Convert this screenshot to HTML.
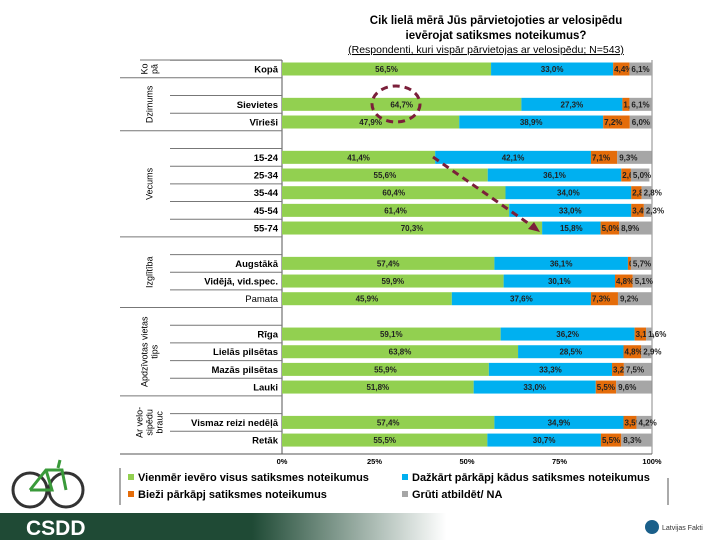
<!DOCTYPE html>
<html><head><meta charset="utf-8"><style>
body{margin:0;background:#fff;}
svg{display:block;font-family:"Liberation Sans",sans-serif;}
</style></head><body>
<svg id="c" width="720" height="540">
<text x="496" y="24" text-anchor="middle" font-size="11.5" font-weight="bold">Cik lielā mērā Jūs pārvietojoties ar velosipēdu</text>
<text x="496" y="39" text-anchor="middle" font-size="11.5" font-weight="bold">ievērojat satiksmes noteikumus?</text>
<text x="486" y="53" text-anchor="middle" font-size="10.5" text-decoration="underline">(Respondenti, kuri vispār pārvietojas ar velosipēdu; N=543)</text>
<g id="plot"></g>
<g>
<defs><linearGradient id="fg" x1="0" x2="1"><stop offset="0" stop-color="#1f4a35"/><stop offset="0.35" stop-color="#1f4a35"/><stop offset="0.62" stop-color="#ffffff"/></linearGradient></defs>
<rect x="0" y="513" width="720" height="27" fill="url(#fg)"/>
<text x="26" y="535" font-size="21" font-weight="bold" fill="#fff">CSDD</text>
<circle cx="652" cy="527" r="7" fill="#1a5f8a"/>
<text x="662" y="530" font-size="7" fill="#333">Latvijas Fakti</text>
</g>
<g stroke="#333" fill="none" stroke-width="3">
<circle cx="30" cy="490" r="17"/><circle cx="66" cy="490" r="17"/>
<path d="M30 490 L46 470 L62 470 L66 490 M46 470 L52 490 L30 490 M58 468 L60 460" stroke="#3a9a3a" stroke-width="3"/>
</g>
</svg>
<script>
const categories=["Kopā","Sievietes","Vīrieši","15-24","25-34","35-44","45-54","55-74","Augstākā","Vidējā, vid.spec.","Pamata","Rīga","Lielās pilsētas","Mazās pilsētas","Lauki","Vismaz reizi nedēļā","Retāk"];
const slots=[0,2,3,5,6,7,8,9,11,12,13,15,16,17,18,20,21];
const boldCat=[1,1,1,1,1,1,1,1,1,1,0,1,1,1,1,1,1];
const seriesA=[56.5,64.7,47.9,41.4,55.6,60.4,61.4,70.3,57.4,59.9,45.9,59.1,63.8,55.9,51.8,57.4,55.5];
const seriesB=[33.0,27.3,38.9,42.1,36.1,34.0,33.0,15.8,36.1,30.1,37.6,36.2,28.5,33.3,33.0,34.9,30.7];
const seriesC=[4.4,1.9,7.2,7.1,2.6,2.8,3.4,5.0,0.8,4.8,7.3,3.1,4.8,3.2,5.5,3.5,5.5];
const seriesD=[6.1,6.1,6.0,9.3,5.0,2.8,2.3,8.9,5.7,5.1,9.2,1.6,2.9,7.5,9.6,4.2,8.3];
const ticks=[0,25,50,75,100];
const seriesNames=["Vienmēr ievēro visus satiksmes noteikumus","Dažkārt pārkāpj kādus satiksmes noteikumus","Bieži pārkāpj satiksmes noteikumus","Grūti atbildēt/ NA"];
const groups=[["Ko pā",0,0],["Dzimums",1,3],["Vecums",4,9],["Izglītība",10,13],["Apdzīvotas vietas tips",14,18],["Ar velo-sipēdu brauc",19,21]];
const colors=["#92d050","#00b0f0","#e46c0a","#a6a6a6"];
const NS="http://www.w3.org/2000/svg";
const g=document.getElementById('plot');
const X0=282,X1=652;
const x=v=>X0+(X1-X0)*v/100;
const y=s=>69+s*17.67;
function mk(t,a,p){const e=document.createElementNS(NS,t);for(const k in a)e.setAttribute(k,a[k]);(p||g).appendChild(e);return e;}
// axes lines
mk('line',{x1:X0,y1:60,x2:X0,y2:454,stroke:'#555','stroke-width':1});
mk('line',{x1:X1,y1:60,x2:X1,y2:454,stroke:'#888','stroke-width':1});
mk('line',{x1:120,y1:454,x2:X1,y2:454,stroke:'#555','stroke-width':1});
mk('line',{x1:140,y1:60,x2:X0,y2:60,stroke:'#777','stroke-width':1});
// separators
groups.forEach((gr,i)=>{
  const yb=y(gr[2])+8.8;
  if(i<groups.length-1) mk('line',{x1:120,y1:yb,x2:X0,y2:yb,stroke:'#777','stroke-width':1});
  const yc=(y(gr[1])-8.8+yb)/2;
  const words=gr[0].split(' ');
  const lines=gr[0]==="Ko pā"?["Ko","pā"]:gr[0]==="Apdzīvotas vietas tips"?["Apdzīvotas vietas","tips"]:gr[0]==="Ar velo-sipēdu brauc"?["Ar velo-","sipēdu","brauc"]:[gr[0]];
  lines.forEach((ln,j)=>{
    const xx=150+(j-(lines.length-1)/2)*10;
    const t=mk('text',{x:xx,y:yc,'font-size':9,'text-anchor':'middle',transform:`rotate(-90 ${xx} ${yc})`,'dominant-baseline':'middle'});
    t.textContent=ln;
    
    
  });
});
categories.forEach((c,i)=>{
  const yy=y(slots[i]);
  if(i>0 && ![3,8,11,15].includes(i)) {} 
  mk('line',{x1:170,y1:yy-8.8,x2:X0,y2:yy-8.8,stroke:'#777','stroke-width':1});
  const t=mk('text',{x:278,y:yy+3.5,'font-size':9.5,'text-anchor':'end','font-weight':boldCat[i]?'bold':'normal'});
  t.textContent=c;
  
  
  const vals=[seriesA[i],seriesB[i],seriesC[i],seriesD[i]];
  let acc=0;
  vals.forEach((v,k)=>{
    const r=mk('rect',{x:x(acc),y:yy-6.5,width:Math.max(0,x(acc+v)-x(acc)),height:13,fill:colors[k]});
    
    
    const lbl=mk('text',{x:k<2?(x(acc)+x(acc+v))/2:(k==2?x(acc)+1:x(acc)+2),y:yy+3,'font-size':8,'font-weight':'bold','text-anchor':k<2?'middle':'start',fill:'#222'});
    lbl.textContent=v.toFixed(1).replace('.',',')+'%';
    
    
    acc+=v;
  });
});
ticks.forEach(t=>{
  const e=mk('text',{x:x(t),y:464,'font-size':7.5,'text-anchor':'middle','font-weight':'bold'});
  e.textContent=t+'%';
  
  
});
// legend
mk('line',{x1:120,y1:468,x2:120,y2:505,stroke:'#555'});
mk('line',{x1:668,y1:478,x2:668,y2:505,stroke:'#555'});
const lp=[[128,481],[402,481],[128,498],[402,498]];
seriesNames.forEach((n,k)=>{
  const r=mk('rect',{x:lp[k][0],y:lp[k][1]-7,width:6,height:6,fill:colors[k]});
  
  
  const t=mk('text',{x:lp[k][0]+10,y:lp[k][1],'font-size':11,'font-weight':'bold'});
  t.textContent=n;
  
  
});
// annotations
mk('ellipse',{cx:396,cy:104,rx:24,ry:18,fill:'none',stroke:'#7b1f3a','stroke-width':3,'stroke-dasharray':'7 5'});
mk('line',{x1:433,y1:157,x2:535,y2:228,stroke:'#7b1f3a','stroke-width':3,'stroke-dasharray':'7 5'});
mk('polygon',{points:'540,232 528,229 534,222',fill:'#7b1f3a'});
</script>
</body></html>
